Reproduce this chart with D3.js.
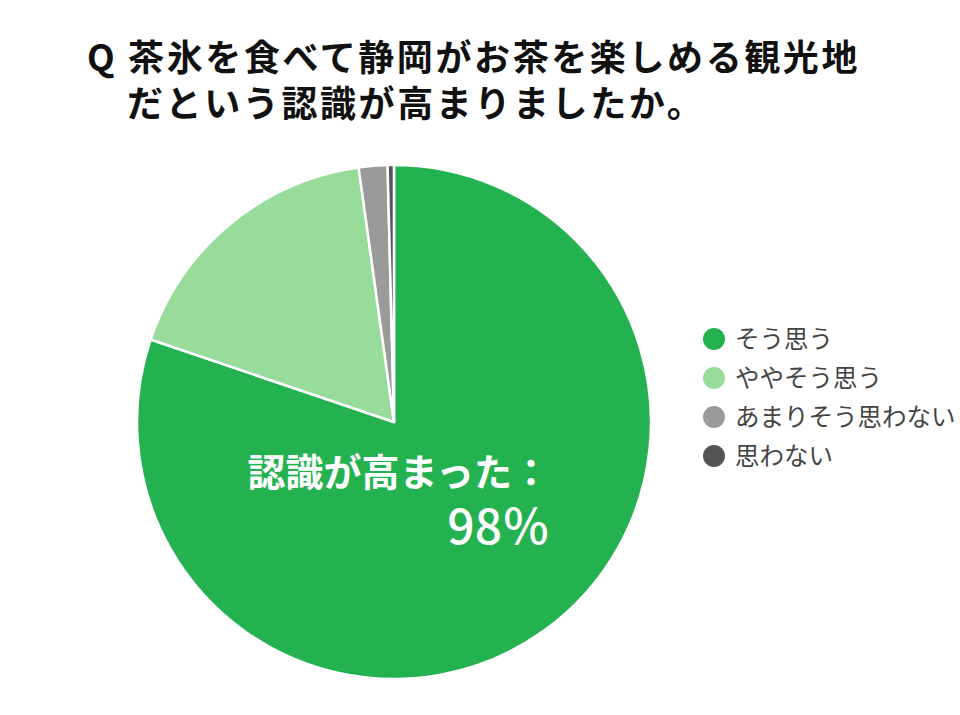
<!DOCTYPE html>
<html>
<head>
    <meta charset="utf-8">
    <script src="https://d3js.org/d3.v7.min.js"></script>
    <style>
        body { margin: 0; background: #fff; }
        text { font-family: "Noto Sans CJK JP", "Noto Sans", sans-serif; }
    </style>
</head>
<body>
    <div id="my_dataviz"></div>
    <script>

        // data (percent)
        var categories = ["そう思う", "ややそう思う", "あまりそう思わない", "思わない"];
        var values = [80.2, 17.6, 1.8, 0.4];
        var colors = ["#23b24f", "#98dc9b", "#9a9a9a", "#555555"];
        var titleLines = ["Q 茶氷を食べて静岡がお茶を楽しめる観光地", "だという認識が高まりましたか。"];
        var labelLines = ["認識が高まった：", "98％"];

        var width = 960, height = 715;
        var cx = 394, cy = 422, radius = 257;

        var svg = d3.select("#my_dataviz")
            .append("svg")
            .attr("width", width)
            .attr("height", height);

        // title
        svg.append("text")
            .attr("x", 87).attr("y", 71)
            .attr("font-size", 36).attr("font-weight", 700)
            .attr("letter-spacing", 2.6)
            .attr("fill", "#111")
            .text(titleLines[0]);
        svg.append("text")
            .attr("x", 127).attr("y", 117)
            .attr("font-size", 36).attr("font-weight", 700)
            .attr("letter-spacing", 2.6)
            .attr("fill", "#111")
            .text(titleLines[1]);

        // pie
        var data = categories.map(function (c, i) { return { name: c, value: values[i], color: colors[i] }; });
        var pie = d3.pie().sort(null).value(function (d) { return d.value; });
        var arc = d3.arc().innerRadius(0).outerRadius(radius);

        var g = svg.append("g").attr("transform", "translate(" + cx + "," + cy + ")");
        g.selectAll("path")
            .data(pie(data))
            .enter()
            .append("path")
            .attr("d", arc)
            .attr("fill", function (d) { return d.data.color; })
            .attr("stroke", "#fff")
            .attr("stroke-width", 2.5)
            .attr("stroke-linejoin", "round");

        // label inside the green slice
        svg.append("text")
            .attr("x", 550).attr("y", 486)
            .attr("text-anchor", "end")
            .attr("font-size", 38).attr("font-weight", 700)
            .attr("fill", "#fff")
            .text(labelLines[0]);
        svg.append("text")
            .attr("x", 550).attr("y", 544)
            .attr("text-anchor", "end")
            .attr("font-size", 48).attr("font-weight", 500)
            .attr("fill", "#fff")
            .text(labelLines[1]);

        // legend
        var legend = svg.append("g");
        var item = legend.selectAll("g")
            .data(data)
            .enter()
            .append("g")
            .attr("transform", function (d, i) { return "translate(714," + (339 + i * 39) + ")"; });
        item.append("circle")
            .attr("r", 11)
            .attr("fill", function (d) { return d.color; });
        item.append("text")
            .attr("x", 21).attr("y", 9)
            .attr("font-size", 24.5)
            .attr("fill", "#444")
            .text(function (d) { return d.name; });

    </script>
</body>
</html>
